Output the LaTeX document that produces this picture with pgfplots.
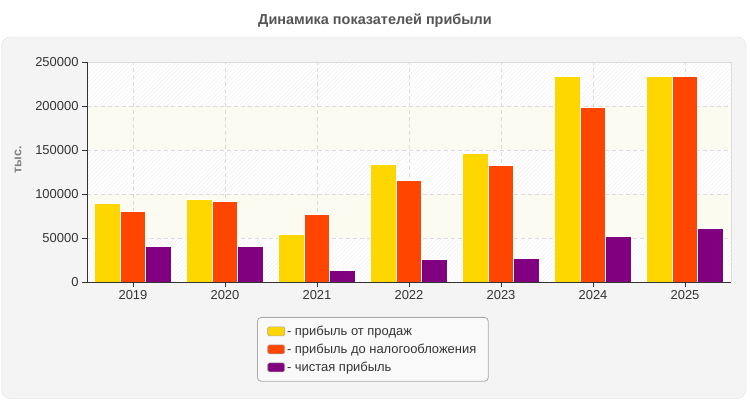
\documentclass[border=0pt]{standalone}
\usepackage{fontspec}
\setmainfont{Liberation Sans}
\usepackage{pgfplots}
\usepackage{pgfplotstable}
\pgfplotsset{compat=1.18}
\usetikzlibrary{patterns.meta}

\definecolor{cSales}{HTML}{FFD700}
\definecolor{cPretax}{HTML}{FF4500}
\definecolor{cNet}{HTML}{800080}
\definecolor{panel}{HTML}{F4F4F4}
\definecolor{panelline}{HTML}{E0E0E0}
\definecolor{gridc}{HTML}{DCDCDC}
\definecolor{band}{HTML}{FBFBF2}
\definecolor{hatch}{HTML}{EFEFEF}
\definecolor{titlec}{HTML}{555555}
\definecolor{axisc}{HTML}{333333}
\definecolor{legline}{HTML}{AAAAAA}
\definecolor{legfill}{HTML}{F9F9F9}

% прибыль, тыс.
\pgfplotstableread{
idx sales  pretax net
0   89000  80000  41000
1   94000  92000  41000
2   54000  76500  13000
3   134000 115000 26000
4   146000 132000 27500
5   234000 198000 51500
6   233000 234000 61500
}\profit

\begin{document}
\begin{tikzpicture}
\useasboundingbox (0bp,0bp) rectangle (750bp,400bp);
\fill[white] (0bp,0bp) rectangle (750bp,400bp);
\draw[panelline, fill=panel, rounded corners=9bp] (1.5bp,1.5bp) rectangle (746bp,363bp);
\node[font=\bfseries\fontsize{14.5}{16}\selectfont, text=titlec] at (375bp,379bp) {Динамика показателей прибыли};
\node[rotate=90, font=\bfseries\fontsize{12.5}{14}\selectfont, text=gray] at (18bp,240bp) {тыс.};
% plot area: 87..731 x 117.7..338 (bands of 44.06bp)
\fill[white] (87bp,117.7bp) rectangle (731bp,338bp);
\foreach \k in {0,2,4} {
  \fill[pattern={Lines[angle=45,distance=3bp,line width=0.4bp]}, pattern color=hatch]
    (87bp,{117.7bp+\k*44.06bp}) rectangle (731bp,{117.7bp+(\k+1)*44.06bp});
}
\foreach \k in {1,3} {
  \fill[band] (87bp,{117.7bp+\k*44.06bp}) rectangle (731bp,{117.7bp+(\k+1)*44.06bp});
}
\draw[gridc, line width=0.8bp] (87bp,338bp) -- (731bp,338bp) -- (731bp,117.7bp);

\begin{axis}[
    at={(87bp,117.7bp)}, anchor=south west,
    scale only axis, width=644bp, height=220.3bp,
    ybar=0bp, bar width=25.5bp,
    xmin=-0.5, xmax=6.5, ymin=0, ymax=250000,
    xtick=data,
    xticklabels={2019,2020,2021,2022,2023,2024,2025},
    ytick={0,50000,100000,150000,200000,250000},
    yticklabels={0,50000,100000,150000,200000,250000},
    scaled y ticks=false,
    tick label style={font=\fontsize{13}{15}\selectfont, text=axisc},
    axis lines*=left,
    axis line style={draw=axisc, line width=0.8bp, -},
    tick align=outside, major tick length=5bp,
    tick style={draw=axisc, line width=0.8bp},
    grid=major,
    major grid style={draw=gridc, line width=0.7bp, dash pattern=on 4bp off 3bp},
    legend style={at={(0.264,-0.1575)}, anchor=north west,
        draw=legline, fill=legfill, rounded corners=4bp, line width=0.8bp,
        font=\fontsize{13}{15}\selectfont, text=axisc,
        inner xsep=10bp, inner ysep=6.5bp, row sep=3bp,
        cells={anchor=west}},
    legend image code/.code={
        \draw[#1, draw=legline, line width=0.6bp, rounded corners=1.5bp]
            (0bp,-4.5bp) rectangle (17bp,4.5bp);},
]
\addplot[fill=cSales, draw=white, line width=1bp] table[x=idx, y=sales] {\profit};
\addlegendentry{- прибыль от продаж}
\addplot[fill=cPretax, draw=white, line width=1bp] table[x=idx, y=pretax] {\profit};
\addlegendentry{- прибыль до налогообложения}
\addplot[fill=cNet, draw=white, line width=1bp] table[x=idx, y=net] {\profit};
\addlegendentry{- чистая прибыль}
\draw[axisc, line width=0.8bp] (rel axis cs:0,0) -- (rel axis cs:1,0);
\end{axis}
\end{tikzpicture}
\end{document}
